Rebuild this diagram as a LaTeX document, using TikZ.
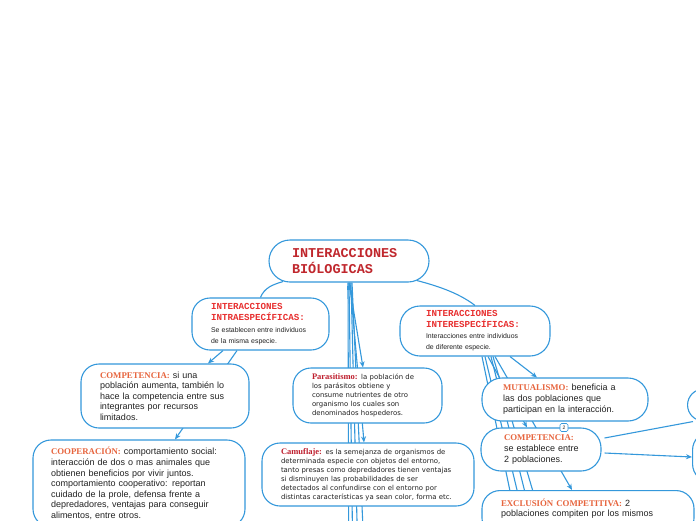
\documentclass[tikz,border=0pt]{standalone}
\usepackage{fontspec}
\newfontfamily\monofnt{Liberation Mono}
\newfontfamily\seriffnt{Liberation Serif}
\newfontfamily\sansfnt{Liberation Sans}
\newfontfamily\verdfnt{DejaVu Sans}
\usetikzlibrary{backgrounds,arrows.meta}
\pgfdeclarelayer{paper}
\pgfsetlayers{paper,background,main}

\definecolor{lineblue}{RGB}{52,152,219}
\definecolor{titlered}{RGB}{192,39,45}
\definecolor{keyred}{RGB}{232,48,48}
\definecolor{keyorange}{RGB}{231,101,62}
\definecolor{keydark}{RGB}{190,30,45}
\definecolor{bodytext}{RGB}{34,34,34}

\newcommand{\orangekey}[1]{{\seriffnt\bfseries\fontsize{8.8}{10}\selectfont\color{keyorange}#1}}
\newcommand{\darkkey}[1]{{\seriffnt\bfseries\fontsize{8.5}{9}\selectfont\color{keydark}#1}}
\newcommand{\redkey}[1]{{\monofnt\bfseries\fontsize{9.2}{12.5}\selectfont\color{keyred}#1}}

\tikzset{
  card/.style={draw=lineblue, line width=1.1pt, fill=white, rounded corners=18pt,
    inner xsep=0pt, inner ysep=0pt, align=left, text=bodytext,
    font=\sansfnt\fontsize{9}{10.5}\selectfont},
  lpad/.style={execute at begin node={\leftskip=#1\relax}},
  link/.style={draw=lineblue, line width=1.1pt},
  badge/.style={draw=lineblue, line width=0.6pt, fill=white, rounded corners=1.5pt,
    minimum size=8pt, inner sep=0pt, text=bodytext, font=\sansfnt\fontsize{5}{5}\selectfont},
}

\begin{document}
\begin{tikzpicture}[x=1pt,y=-1pt,>={Stealth[length=6pt,width=5pt]}]
\begin{pgfonlayer}{paper}
\fill[white] (0,0) rectangle (696,520);
\end{pgfonlayer}
\useasboundingbox (0,0) rectangle (696,520);

% main topic
\node[card,rounded corners=21pt,text width=160pt,minimum height=42pt,lpad=23pt,
  font=\monofnt\bfseries\fontsize{13.5}{16}\selectfont,text=titlered] (bio) at (349,261)
  {INTERACCIONES\\BIÓLOGICAS};
\fill[lineblue] ([yshift=-5pt]bio.south) +(-2,-2) rectangle +(2,2);

% the two groups
\node[card,text width=137pt,minimum height=52pt,lpad=19pt,
  font=\sansfnt\fontsize{6.9}{11.5}\selectfont] (intra) at (260.5,324)
  {\redkey{INTERACCIONES\\INTRAESPECÍFICAS:}\\Se establecen entre individuos\\de la misma especie.};
\node[card,rounded corners=20pt,text width=150pt,minimum height=50pt,lpad=26pt,
  font=\sansfnt\fontsize{6.9}{11}\selectfont] (inter) at (475,331)
  {\redkey{INTERACCIONES\\INTERESPECÍFICAS:}\\Interacciones entre individuos\\de diferente especie.};

% left branch
\node[card,text width=168pt,minimum height=64pt,lpad=19pt] (compIntra) at (165,396)
  {\orangekey{COMPETENCIA:} si una\\población aumenta, también lo\\hace la competencia entre sus\\integrantes por recursos\\limitados.};
\node[card,text width=212pt,minimum height=87pt,lpad=18pt,
  font=\sansfnt\fontsize{9}{10.6}\selectfont] (coop) at (139,483.5)
  {\orangekey{COOPERACIÓN:} comportamiento social:\\interacción de dos o mas animales que\\obtienen beneficios por vivir juntos.\\comportamiento cooperativo: reportan\\cuidado de la prole, defensa frente a\\depredadores, ventajas para conseguir\\alimentos, entre otros.};

% middle branch
\node[card,text width=149pt,minimum height=55pt,lpad=19pt,
  font=\verdfnt\fontsize{6.9}{9}\selectfont] (parasit) at (367.5,395.5)
  {\darkkey{Parasitismo:} la población de\\los parásitos obtiene y\\consume nutrientes de otro\\organismo los cuales son\\denominados hospederos.};
\node[card,text width=212pt,minimum height=63pt,lpad=19pt,
  font=\verdfnt\fontsize{6.9}{9}\selectfont] (camuf) at (368,474.5)
  {\darkkey{Camuflaje:} es la semejanza de organismos de\\determinada especie con objetos del entorno,\\tanto presas como depredadores tienen ventajas\\si disminuyen las probabilidades de ser\\detectados al confundirse con el entorno por\\distintas características ya sean color, forma etc.};

% right branch
\node[card,rounded corners=20pt,text width=166pt,minimum height=43pt,lpad=21pt,
  font=\sansfnt\fontsize{9}{11}\selectfont] (mutual) at (565,399.5)
  {\orangekey{MUTUALISMO:} beneficia a\\las dos poblaciones que\\participan en la interacción.};
\node[card,rounded corners=20pt,text width=120pt,minimum height=43pt,lpad=23pt,
  font=\sansfnt\fontsize{9}{11}\selectfont] (compInter) at (541,449.5)
  {\orangekey{COMPETENCIA:}\\se establece entre\\2 poblaciones.};
\node[badge] (compBadge) at ([xshift=23pt]compInter.north) {2};
\node[card,anchor=north,text width=212pt,inner ysep=8pt,text depth=22pt,lpad=19pt,
  font=\sansfnt\fontsize{9}{10}\selectfont] (exclus) at (588,490)
  {\orangekey{EXCLUSIÓN COMPETITIVA:} 2\\poblaciones compiten por los mismos};
\node[card,rounded corners=16pt,minimum width=113pt,minimum height=32pt,anchor=west] (offA) at (687,405) {};
\node[card,minimum width=108pt,minimum height=50pt,anchor=west] (offB) at (692,457) {};

% ends of the bundles below the page
\foreach \i/\x in {1/349,2/354,3/360,4/368}
  \coordinate (bioLow\i) at (\x,640);
\foreach \i/\x in {1/541,2/553,3/562,4/577}
  \coordinate (interLow\i) at (\x,640);

\begin{pgfonlayer}{background}
\draw[link] ([xshift=-66pt,yshift=1pt]bio.south) .. controls +(-10,3) and +(4,-10) .. (intra.north);
\draw[link] ([xshift=68pt,yshift=2pt]bio.south) .. controls +(15,4) and +(-18,-14) .. (inter.north);

\draw[link,->] (bio.south) -- ([xshift=-4.5pt]parasit.north);
\draw[link,->] ([xshift=1pt]bio.south) -- ([xshift=-4pt]camuf.north);
\foreach \i/\s in {1/-1,2/0,3/2,4/3}
  \draw[link] ([xshift=\s pt]bio.south) -- (bioLow\i);

\draw[link,->] ([xshift=-37.5pt]intra.south) -- ([xshift=43pt]compIntra.north);
\draw[link,->] ([xshift=-23.5pt]intra.south) -- ([xshift=36pt]coop.north);

\draw[link,->] ([xshift=35pt]inter.south) -- ([xshift=-28pt]mutual.north);
\draw[link,->] ([xshift=13pt]inter.south) -- ([xshift=-14pt]compInter.north);
\draw[link,->] ([xshift=20pt]inter.south) -- ([xshift=-16pt]exclus.north);
\foreach \i/\s in {1/7,2/10,3/16,4/18}
  \draw[link] ([xshift=\s pt]inter.south) -- (interLow\i);

\draw[link] ([xshift=3pt,yshift=11.5pt]compInter.east) -- ([xshift=6pt]offA.south west);
\draw[link,->] ([xshift=3pt,yshift=-3.5pt]compInter.east) -- (offB.west);
\end{pgfonlayer}
\end{tikzpicture}
\end{document}
